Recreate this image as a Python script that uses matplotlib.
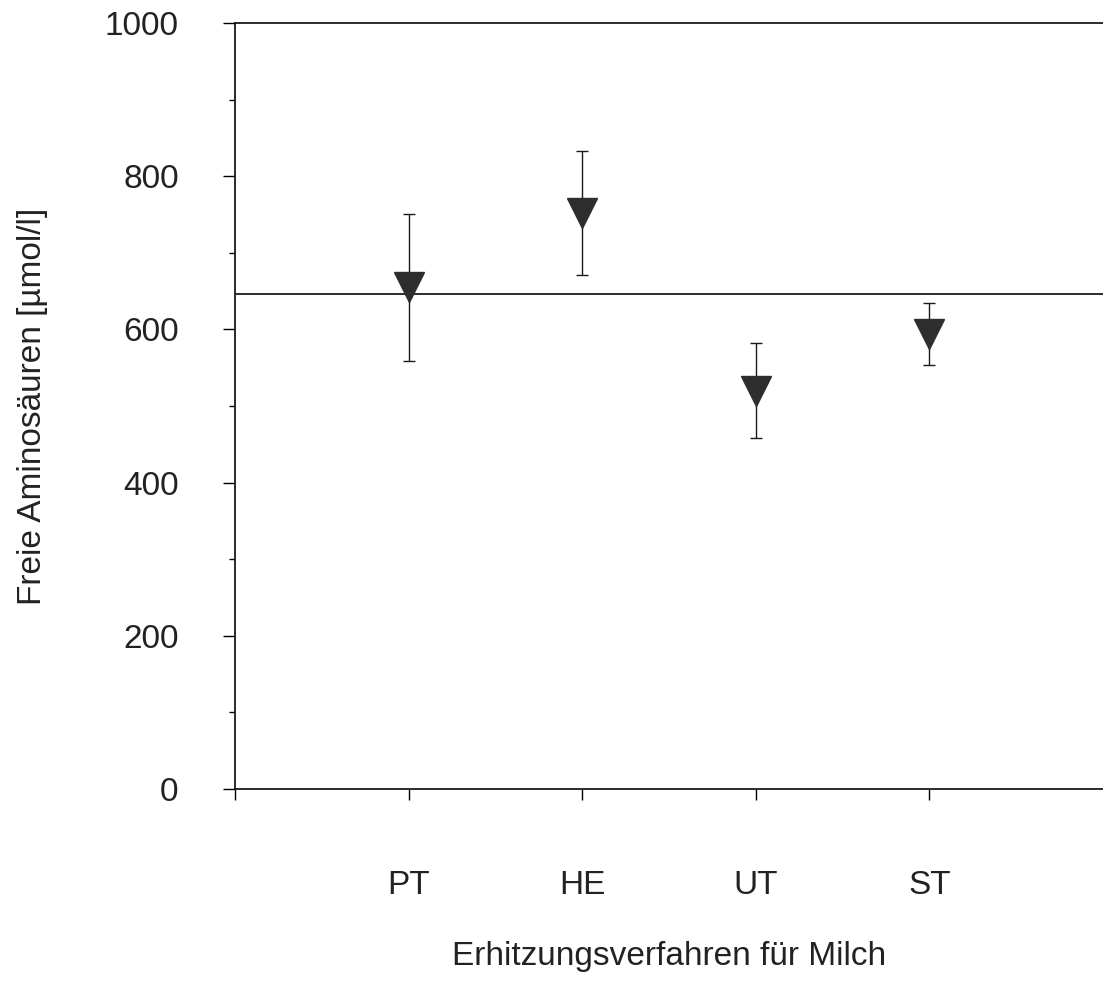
import matplotlib.pyplot as plt

# Freie Aminosäuren je Erhitzungsverfahren (Mittelwert +/- Streuung)
categories = ['PT', 'HE', 'UT', 'ST']
means = [655, 752, 520, 594]
errors = [96, 81, 62, 40]
reference_level = 646

plt.rcParams['font.family'] = ['Liberation Sans', 'DejaVu Sans']
text_color = '#222222'

fig = plt.figure(figsize=(11.03, 9.84), dpi=100)
ax = fig.add_axes([0.213, 0.1982, 0.787, 0.7784])

x = list(range(1, len(categories) + 1))
ax.errorbar(x, means, yerr=errors, fmt='none', ecolor='#1a1a1a',
            elinewidth=1.0, capsize=4, capthick=1.0, zorder=2)
ax.plot(x, means, linestyle='none', marker='v', markersize=22,
        color='#2e2e2e', markeredgecolor='#2e2e2e', zorder=3)
ax.axhline(reference_level, color='#1a1a1a', linewidth=1.3, zorder=1)

ax.set_xlim(0, 5)
ax.set_ylim(0, 1000)
ax.set_yticks(range(0, 1001, 200))
ax.set_yticks(range(100, 1000, 200), minor=True)
ax.set_xticks([0] + x)
ax.set_xticklabels([''] + categories)

for side in ['left', 'bottom', 'top']:
    ax.spines[side].set_linewidth(1.3)
    ax.spines[side].set_color('#1a1a1a')
ax.spines['right'].set_visible(False)

ax.tick_params(axis='y', which='major', direction='out', length=8.5,
               width=1.0, pad=32, labelsize=24, labelcolor=text_color)
ax.tick_params(axis='y', which='minor', direction='out', length=4, width=1.0)
ax.tick_params(axis='x', which='major', direction='out', length=8,
               width=1.0, pad=50, labelsize=24, labelcolor=text_color)

ax.set_ylabel('Freie Aminosäuren [µmol/l]', fontsize=24, color=text_color,
              va='center')
ax.yaxis.set_label_coords(-0.2327, 0.5)
ax.set_xlabel('Erhitzungsverfahren für Milch', fontsize=24, color=text_color,
              va='center')
ax.xaxis.set_label_coords(0.5, -0.219)

fig.savefig('out.png', dpi=100)
